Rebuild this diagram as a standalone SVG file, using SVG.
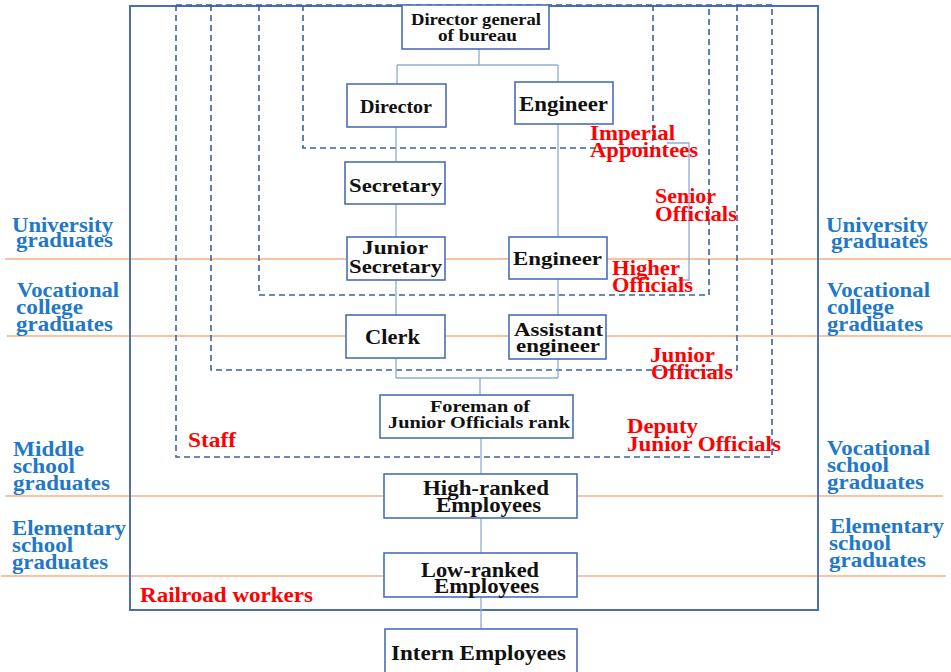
<svg xmlns="http://www.w3.org/2000/svg" width="951" height="672" viewBox="0 0 951 672">
<style>
text{font-family:"Liberation Serif","Times New Roman",serif;font-weight:bold;}
.node rect{fill:#fff;stroke:#4a6fb5;stroke-width:1.6;}
.nt{fill:#111;}
.red{fill:#ff0000;font-size:21px;}
.blue{fill:#1f78c8;font-size:21px;}
.conn{stroke:#8eaadb;stroke-width:1.3;fill:none;}
.dash{stroke:#3d5f9e;stroke-width:1.6;fill:none;stroke-dasharray:6,4;}
.grade{stroke:#f4b183;stroke-width:1.6;}
</style>
<rect width="951" height="672" fill="#fff"/>
<g id="grade-lines">
<line class="grade" x1="5" y1="259" x2="951" y2="259"/>
<line class="grade" x1="7" y1="336" x2="951" y2="336"/>
<line class="grade" x1="5" y1="496" x2="943" y2="496"/>
<line class="grade" x1="1" y1="576" x2="946" y2="576"/>
</g>
<g id="railroad-workers-frame">
<rect x="130" y="6" width="688" height="604" fill="none" stroke="#4a6fb5" stroke-width="2"/>
</g>
<g id="rank-frames">
<path class="dash" d="M176,5 H772"/>
<path class="dash" d="M176,5 V457 H772 V5"/>
<path class="dash" d="M211,5 V370 H737 V5"/>
<path class="dash" d="M259,5 V295 H709 V5"/>
<path class="dash" d="M303,5 V148 H653 V5"/>
<path class="conn" d="M667,143 H689 V280 H678"/>
</g>
<g id="connectors">
<path class="conn" d="M479,49 V65 M397,65 H558 M397,65 V84 M558,65 V82"/>
<path class="conn" d="M396,127 V378 M558,124 V378 M396,378 H558 M480,378 V395"/>
<path class="conn" d="M481,438 V474 M481,518 V553 M481,597 V629"/>
</g>
<g id="n-director-general" class="node"><rect x="402" y="5" width="147" height="44"/>
<text class="nt" x="411" y="25" font-size="17" textLength="130" lengthAdjust="spacingAndGlyphs">Director general</text>
<text class="nt" x="438" y="41" font-size="17" textLength="79" lengthAdjust="spacingAndGlyphs">of bureau</text></g>
<g id="n-director" class="node"><rect x="347" y="84" width="99" height="43"/>
<text class="nt" x="360" y="113" font-size="19" textLength="72" lengthAdjust="spacingAndGlyphs">Director</text></g>
<g id="n-engineer-1" class="node"><rect x="515" y="82" width="98" height="42"/>
<text class="nt" x="519" y="111" font-size="21" textLength="89" lengthAdjust="spacingAndGlyphs">Engineer</text></g>
<g id="n-secretary" class="node"><rect x="345" y="162" width="100" height="42"/>
<text class="nt" x="349" y="192" font-size="19" textLength="93" lengthAdjust="spacingAndGlyphs">Secretary</text></g>
<g id="n-junior-secretary" class="node"><rect x="347" y="237" width="98" height="43"/>
<text class="nt" x="362" y="254" font-size="19" textLength="66" lengthAdjust="spacingAndGlyphs">Junior</text>
<text class="nt" x="349" y="273" font-size="19" textLength="93" lengthAdjust="spacingAndGlyphs">Secretary</text></g>
<g id="n-engineer-2" class="node"><rect x="509" y="237" width="98" height="42"/>
<text class="nt" x="513" y="265" font-size="19" textLength="89" lengthAdjust="spacingAndGlyphs">Engineer</text></g>
<g id="n-clerk" class="node"><rect x="346" y="315" width="99" height="43"/>
<text class="nt" x="365" y="344" font-size="21" textLength="55" lengthAdjust="spacingAndGlyphs">Clerk</text></g>
<g id="n-assistant-engineer" class="node"><rect x="509" y="315" width="97" height="44"/>
<text class="nt" x="514" y="336" font-size="19" textLength="89" lengthAdjust="spacingAndGlyphs">Assistant</text>
<text class="nt" x="516" y="352" font-size="19" textLength="84" lengthAdjust="spacingAndGlyphs">engineer</text></g>
<g id="n-foreman" class="node"><rect x="380" y="395" width="193" height="43"/>
<text class="nt" x="430" y="412" font-size="17" textLength="100" lengthAdjust="spacingAndGlyphs">Foreman of</text>
<text class="nt" x="388" y="428" font-size="17" textLength="182" lengthAdjust="spacingAndGlyphs">Junior Officials rank</text></g>
<g id="n-high-ranked" class="node"><rect x="384" y="474" width="193" height="44"/>
<text class="nt" x="423" y="495" font-size="20" textLength="126" lengthAdjust="spacingAndGlyphs">High-ranked</text>
<text class="nt" x="436" y="512" font-size="20" textLength="105" lengthAdjust="spacingAndGlyphs">Employees</text></g>
<g id="n-low-ranked" class="node"><rect x="384" y="553" width="193" height="44"/>
<text class="nt" x="421" y="577" font-size="20" textLength="118" lengthAdjust="spacingAndGlyphs">Low-ranked</text>
<text class="nt" x="434" y="593" font-size="20" textLength="105" lengthAdjust="spacingAndGlyphs">Employees</text></g>
<g id="n-intern" class="node"><rect x="385" y="629" width="192" height="50"/>
<text class="nt" x="391" y="660" font-size="20" textLength="175" lengthAdjust="spacingAndGlyphs">Intern Employees</text></g>
<g id="rank-labels">
<text class="red" x="590" y="140" textLength="85" lengthAdjust="spacingAndGlyphs">Imperial</text>
<text class="red" x="590" y="157" textLength="108" lengthAdjust="spacingAndGlyphs">Appointees</text>
<text class="red" x="655" y="203" textLength="61" lengthAdjust="spacingAndGlyphs">Senior</text>
<text class="red" x="655" y="221" textLength="82" lengthAdjust="spacingAndGlyphs">Officials</text>
<text class="red" x="612" y="275" textLength="68" lengthAdjust="spacingAndGlyphs">Higher</text>
<text class="red" x="612" y="292" textLength="81" lengthAdjust="spacingAndGlyphs">Officials</text>
<text class="red" x="650" y="362" textLength="65" lengthAdjust="spacingAndGlyphs">Junior</text>
<text class="red" x="651" y="379" textLength="82" lengthAdjust="spacingAndGlyphs">Officials</text>
<text class="red" x="188" y="447" textLength="48" lengthAdjust="spacingAndGlyphs">Staff</text>
<text class="red" x="627" y="433" textLength="71" lengthAdjust="spacingAndGlyphs">Deputy</text>
<text class="red" x="627" y="451" textLength="154" lengthAdjust="spacingAndGlyphs">Junior Officials</text>
<text class="red" x="140" y="602" textLength="173" lengthAdjust="spacingAndGlyphs">Railroad workers</text>
</g>
<g id="education-left">
<text class="blue" x="12" y="232" textLength="101" lengthAdjust="spacingAndGlyphs">University</text>
<text class="blue" x="16" y="247" textLength="97" lengthAdjust="spacingAndGlyphs">graduates</text>
<text class="blue" x="17" y="297" textLength="102" lengthAdjust="spacingAndGlyphs">Vocational</text>
<text class="blue" x="16" y="314" textLength="67" lengthAdjust="spacingAndGlyphs">college</text>
<text class="blue" x="16" y="331" textLength="97" lengthAdjust="spacingAndGlyphs">graduates</text>
<text class="blue" x="13" y="456" textLength="71" lengthAdjust="spacingAndGlyphs">Middle</text>
<text class="blue" x="13" y="473" textLength="62" lengthAdjust="spacingAndGlyphs">school</text>
<text class="blue" x="13" y="490" textLength="97" lengthAdjust="spacingAndGlyphs">graduates</text>
<text class="blue" x="12" y="535" textLength="114" lengthAdjust="spacingAndGlyphs">Elementary</text>
<text class="blue" x="12" y="552" textLength="61" lengthAdjust="spacingAndGlyphs">school</text>
<text class="blue" x="12" y="569" textLength="96" lengthAdjust="spacingAndGlyphs">graduates</text>
</g>
<g id="education-right">
<text class="blue" x="826" y="232" textLength="102" lengthAdjust="spacingAndGlyphs">University</text>
<text class="blue" x="831" y="248" textLength="97" lengthAdjust="spacingAndGlyphs">graduates</text>
<text class="blue" x="827" y="297" textLength="103" lengthAdjust="spacingAndGlyphs">Vocational</text>
<text class="blue" x="827" y="314" textLength="67" lengthAdjust="spacingAndGlyphs">college</text>
<text class="blue" x="827" y="331" textLength="96" lengthAdjust="spacingAndGlyphs">graduates</text>
<text class="blue" x="827" y="455" textLength="103" lengthAdjust="spacingAndGlyphs">Vocational</text>
<text class="blue" x="827" y="472" textLength="62" lengthAdjust="spacingAndGlyphs">school</text>
<text class="blue" x="827" y="489" textLength="97" lengthAdjust="spacingAndGlyphs">graduates</text>
<text class="blue" x="830" y="533" textLength="114" lengthAdjust="spacingAndGlyphs">Elementary</text>
<text class="blue" x="829" y="550" textLength="62" lengthAdjust="spacingAndGlyphs">school</text>
<text class="blue" x="829" y="567" textLength="97" lengthAdjust="spacingAndGlyphs">graduates</text>
</g>
</svg>
